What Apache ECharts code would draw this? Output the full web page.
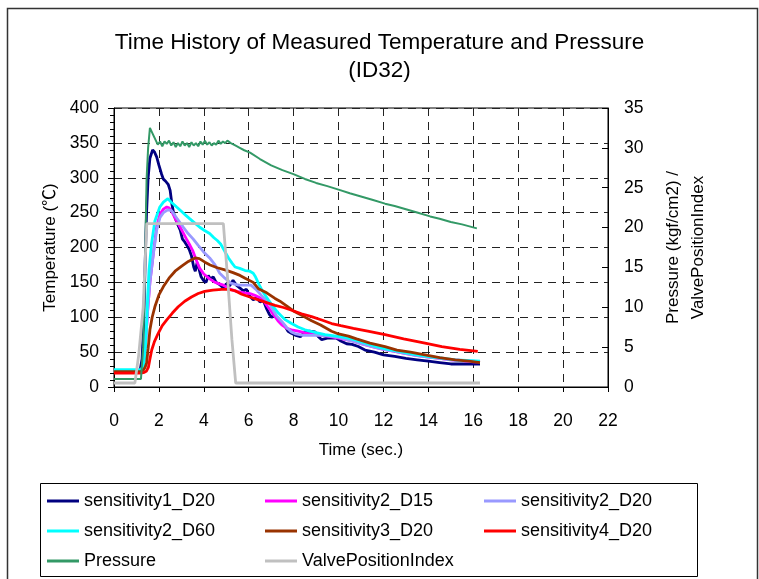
<!DOCTYPE html>
<html>
<head>
<meta charset="utf-8">
<script src="https://cdn.jsdelivr.net/npm/echarts@6/dist/echarts.min.js"></script>
<style>html,body{margin:0;padding:0;background:#fff}#c{width:759px;height:579px}</style>
</head>
<body>
<div id="c"></div>
<script>
const titleLines = ['Time History of Measured Temperature and Pressure', '(ID32)'];
const xTicks = [0, 2, 4, 6, 8, 10, 12, 14, 16, 18, 20, 22];
const leftTicks = [0, 50, 100, 150, 200, 250, 300, 350, 400];
const rightTicks = [0, 5, 10, 15, 20, 25, 30, 35];
const seriesNames = ['sensitivity1_D20', 'sensitivity2_D15', 'sensitivity2_D20', 'sensitivity2_D60', 'sensitivity3_D20', 'sensitivity4_D20', 'Pressure', 'ValvePositionIndex'];

// [time (s), temperature (°C)]
const s1_D20 = [[0,22],[1.15,22],[1.25,40],[1.32,90],[1.38,170],[1.45,250],[1.52,300],[1.6,328],[1.72,340],[1.8,337],[1.9,330],[2.0,318],[2.12,305],[2.2,298],[2.3,295],[2.42,290],[2.5,282],[2.58,262],[2.65,250],[2.75,240],[2.85,232],[2.95,225],[3.05,212],[3.15,208],[3.25,203],[3.35,197],[3.45,188],[3.55,172],[3.62,166],[3.7,178],[3.78,170],[3.88,158],[3.98,153],[4.1,150],[4.2,160],[4.3,155],[4.42,158],[4.55,150],[4.7,147],[4.87,142],[5.0,148],[5.15,145],[5.3,153],[5.45,146],[5.6,142],[5.76,138],[5.9,140],[6.05,130],[6.2,125],[6.35,128],[6.5,122],[6.65,124],[6.8,112],[6.92,104],[7.02,100],[7.15,102],[7.3,97],[7.45,92],[7.6,88],[7.75,80],[7.9,77],[8.1,74],[8.3,72],[8.5,79],[8.7,80],[8.95,79],[9.1,72],[9.25,68],[9.5,70],[9.9,70],[10.1,66],[10.36,62],[10.6,61],[10.88,58],[11.18,53],[11.6,50],[12.0,46],[12.5,44],[13.0,41],[13.5,39],[14.0,37],[14.5,35],[15.0,33],[15.5,33],[16.0,33],[16.3,33]];
const s2_D15 = [[0,22],[1.2,22],[1.3,30],[1.4,60],[1.5,110],[1.6,150],[1.75,191],[1.9,230],[2.05,248],[2.2,255],[2.35,258],[2.45,257],[2.6,250],[2.75,240],[2.95,229],[3.1,220],[3.23,212],[3.35,205],[3.5,196],[3.65,183],[3.82,170],[4.0,162],[4.26,155],[4.5,150],[4.87,146],[5.2,140],[5.46,137],[5.8,135],[6.06,134],[6.3,131],[6.5,128],[6.65,124],[6.85,115],[7.1,104],[7.3,95],[7.47,89],[7.7,84],[7.9,82],[8.2,80],[8.6,77],[9.0,75],[9.5,73],[10.0,70],[10.5,67],[11,62],[11.5,58],[12,54],[12.5,51],[13,48],[13.5,45],[14,43],[14.5,41],[15,39],[15.5,38],[16,36],[16.3,36]];
const s2_D20 = [[0,22],[1.2,22],[1.3,30],[1.4,60],[1.5,110],[1.6,150],[1.75,190],[1.9,225],[2.05,243],[2.2,250],[2.4,254],[2.56,253],[2.8,242],[3.09,229],[3.3,220],[3.53,212],[3.75,203],[3.98,194],[4.26,185],[4.5,175],[4.71,163],[4.94,156],[5.2,149],[5.54,146],[5.91,146],[6.1,146],[6.35,139],[6.6,130],[6.87,122],[7.05,112],[7.24,102],[7.47,94],[7.7,85],[7.9,79],[8.1,76],[8.43,74],[8.8,74],[9.2,74],[9.6,73],[10,71],[10.5,67],[11,62],[11.5,58],[12,54],[12.5,51],[13,48],[13.5,45],[14,43],[14.5,41],[15,39],[15.5,38],[16,37],[16.3,36]];
const s2_D60 = [[0,25],[1.2,25],[1.3,30],[1.38,45],[1.45,90],[1.5,130],[1.56,168],[1.67,205],[1.82,238],[2.04,258],[2.2,265],[2.4,270],[2.55,265],[2.79,258],[3.0,252],[3.2,246],[3.38,241],[3.6,235],[3.82,229],[4.05,224],[4.26,220],[4.45,214],[4.6,210],[4.75,205],[4.94,194],[5.1,185],[5.25,178],[5.39,172],[5.6,170],[5.84,167],[6.05,166],[6.2,163],[6.3,158],[6.43,149],[6.6,138],[6.87,125],[7.1,115],[7.32,106],[7.6,97],[7.91,91],[8.2,86],[8.5,82],[9.0,78],[9.4,75],[9.9,73],[10.29,71],[10.7,68],[11.2,63],[11.7,58],[12.2,54],[12.7,51],[13.2,48],[13.7,45],[14.2,43],[14.7,41],[15.2,39],[15.7,38],[16.3,37]];
const s3_D20 = [[0,22],[1.2,22],[1.3,24],[1.38,28],[1.45,34],[1.52,55],[1.6,82],[1.7,100],[1.82,115],[2.0,132],[2.2,144],[2.45,156],[2.72,166],[3.0,173],[3.31,180],[3.61,185],[3.8,184],[4.05,179],[4.28,175],[4.6,171],[4.94,168],[5.3,164],[5.61,160],[5.84,156],[6.2,150],[6.43,141],[6.8,135],[7.17,127],[7.39,123],[7.7,116],[7.99,109],[8.4,102],[8.8,95],[9.2,89],[9.69,80],[10.0,76],[10.44,73],[10.8,69],[11.4,63],[12.07,58],[12.6,53],[13.2,50],[13.85,46],[14.5,42],[15.2,39],[15.8,37],[16.3,35]];
const s4_D20 = [[0,20],[1.2,20],[1.35,21],[1.45,23],[1.53,28],[1.6,40],[1.68,53],[1.8,65],[1.97,77],[2.15,88],[2.34,96],[2.6,106],[2.86,115],[3.15,123],[3.45,129],[3.75,134],[4.04,137],[4.4,139],[4.8,140],[5.1,140],[5.39,138],[5.69,133],[6.05,129],[6.43,125],[6.8,121],[7.17,117],[7.55,114],[7.91,110],[8.35,105],[8.8,101],[9.25,96],[9.69,91],[10.1,88],[10.66,84],[11.3,80],[12.07,75],[12.9,69],[13.85,63],[14.6,58],[15.4,54],[16.2,51]];
// [time (s), pressure (kgf/cm2)]
const pressure = [[0,1.0],[1.2,1.0],[1.3,5],[1.38,15],[1.45,26],[1.52,30],[1.6,32.5],[1.66,32.3],[1.75,31.6],[1.85,31.0],[1.95,30.4],[2.05,30.8],[2.15,30.2],[2.25,30.8],[2.35,30.5],[2.45,30.9],[2.55,30.3],[2.65,30.7],[2.75,30.1],[2.85,30.6],[2.95,30.2],[3.05,30.8],[3.15,30.3],[3.25,30.6],[3.35,30.1],[3.45,30.7],[3.55,30.3],[3.65,30.6],[3.75,30.2],[3.85,30.8],[3.95,30.4],[4.05,30.9],[4.15,30.4],[4.25,30.7],[4.35,30.3],[4.45,30.6],[4.55,30.4],[4.65,30.9],[4.75,30.5],[4.85,30.8],[4.95,30.6],[5.05,30.9],[5.2,30.6],[5.4,30.3],[5.6,30.0],[5.8,29.7],[6.06,29.4],[6.5,28.6],[7.0,27.8],[7.5,27.2],[7.99,26.7],[8.5,26.1],[9.0,25.6],[9.5,25.2],[10.07,24.7],[10.5,24.3],[11.0,23.9],[11.5,23.5],[12.07,23.0],[12.5,22.7],[13.0,22.3],[13.5,21.9],[14.08,21.4],[14.5,21.1],[15.0,20.7],[15.5,20.4],[16.16,19.9]];
const valve = [[0,0.5],[0.93,0.5],[1.1,4],[1.3,10],[1.46,20.5],[4.87,20.5],[5.05,14],[5.25,6],[5.42,0.5],[16.3,0.5]];

const seriesData = [s1_D20, s2_D15, s2_D20, s2_D60, s3_D20, s4_D20, pressure, valve];
const seriesColors = ['#000080', '#FF00FF', '#9999FF', '#00FFFF', '#993300', '#FF0000', '#339966', '#C0C0C0'];
const seriesAxis = [0, 0, 0, 0, 0, 0, 1, 1];
const seriesWidth = [2.8, 2.8, 2.8, 2.8, 2.8, 2.8, 2, 2.8];

const FONT = '"Liberation Sans", Arial, "Noto Sans CJK JP", sans-serif';
const chart = echarts.init(document.getElementById('c'), null, {renderer: 'canvas'});
const gridDash = {color: '#222', width: 1, type: [8, 6]};

const option = {
  animation: false,
  backgroundColor: '#fff',
  title: {
    text: titleLines.join('\n'),
    left: 'center', top: 24,
    textStyle: {fontFamily: FONT, fontSize: 22.5, fontWeight: 'normal', color: '#000', lineHeight: 28}
  },
  grid: {left: 114, right: 151, top: 108, bottom: 192, show: true, borderColor: '#000', borderWidth: 1},
  xAxis: {
    type: 'value', min: xTicks[0], max: xTicks[xTicks.length - 1], interval: 2,
    name: 'Time (sec.)', nameLocation: 'middle', nameGap: 55,
    nameTextStyle: {fontFamily: FONT, fontSize: 17, color: '#000'},
    axisLine: {show: true, lineStyle: {color: '#000', width: 1}},
    axisTick: {show: true, length: 5, lineStyle: {color: '#000'}},
    axisLabel: {fontFamily: FONT, fontSize: 17.5, color: '#000', margin: 25},
    splitLine: {show: true, lineStyle: gridDash}
  },
  yAxis: [{
    type: 'value', min: leftTicks[0], max: leftTicks[leftTicks.length - 1], interval: 50,
    name: 'Temperature (℃)', nameLocation: 'middle', nameGap: 52, nameRotate: 90,
    nameTextStyle: {fontFamily: FONT, fontSize: 17, color: '#000'},
    axisLine: {show: true, lineStyle: {color: '#000', width: 1}},
    axisTick: {show: true, length: 6, lineStyle: {color: '#000'}},
    minorTick: {show: true, splitNumber: 5, length: 4, lineStyle: {color: '#000'}},
    axisLabel: {fontFamily: FONT, fontSize: 17.5, color: '#000', margin: 15},
    splitLine: {show: true, lineStyle: gridDash}
  }, {
    type: 'value', position: 'right', min: rightTicks[0], max: rightTicks[rightTicks.length - 1], interval: 5,
    name: 'Pressure (kgf/cm2) /\nValvePositionIndex', nameLocation: 'middle', nameGap: 53, nameRotate: 90,
    nameTextStyle: {fontFamily: FONT, fontSize: 17, color: '#000', lineHeight: 25},
    axisLine: {show: true, lineStyle: {color: '#000', width: 1}},
    axisTick: {show: true, inside: true, length: 6, lineStyle: {color: '#000'}},
    axisLabel: {fontFamily: FONT, fontSize: 17.5, color: '#000', margin: 16},
    splitLine: {show: false}
  }],
  legend: [
    [0, 3, 6], [1, 4, 7], [2, 5]
  ].map((idx, k) => ({
    orient: 'vertical', left: [47, 265, 484][k], top: 491, padding: 0, itemGap: 10,
    icon: 'rect', itemWidth: 32, itemHeight: 3,
    textStyle: {fontFamily: FONT, fontSize: 18, color: '#000', lineHeight: 20},
    data: idx.map(i => seriesNames[i])
  })),
  graphic: [
    {type: 'rect', shape: {x: 40.5, y: 483.5, width: 657, height: 93}, style: {fill: 'none', stroke: '#000', lineWidth: 1}, z: 100},
    {type: 'rect', shape: {x: 7.5, y: 8.5, width: 750, height: 620}, style: {fill: 'none', stroke: '#333', lineWidth: 1.5}, z: 100}
  ],
  series: seriesNames.map((n, i) => ({
    name: n, type: 'line', yAxisIndex: seriesAxis[i], data: seriesData[i],
    showSymbol: false, symbol: 'none', smooth: false,
    lineStyle: {color: seriesColors[i], width: seriesWidth[i]},
    itemStyle: {color: seriesColors[i]}
  }))
};
chart.setOption(option);
</script>
</body>
</html>
